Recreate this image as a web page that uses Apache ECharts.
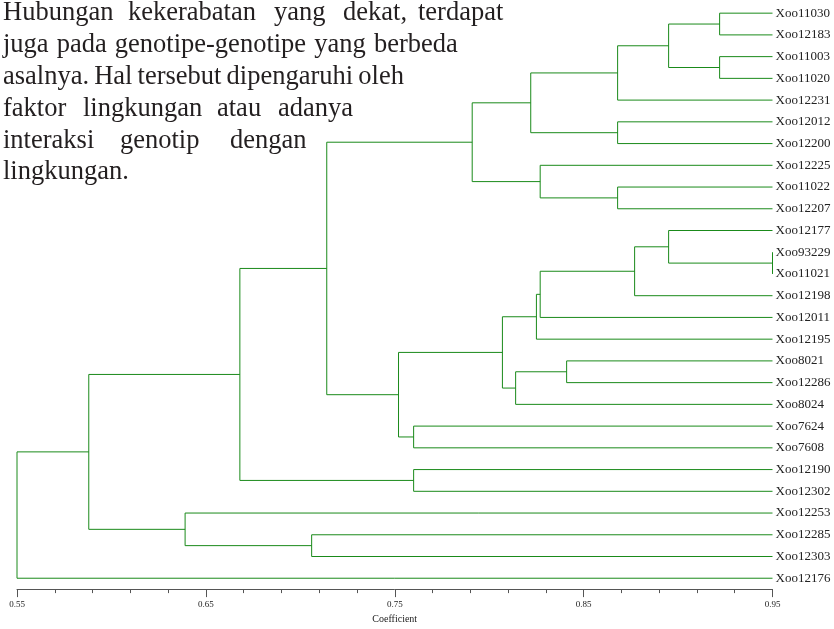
<!DOCTYPE html>
<html><head><meta charset="utf-8">
<script src="https://cdn.jsdelivr.net/npm/echarts@6/dist/echarts.min.js"></script>
<style>html,body{margin:0;padding:0;background:#fff}#c{width:834px;height:629px}</style>
</head><body><div id="c"></div>
<script>
// Leaves (top to bottom)
const leafNames = ['Xoo11030','Xoo12183','Xoo11003','Xoo11020','Xoo12231','Xoo12012','Xoo12200','Xoo12225','Xoo11022','Xoo12207','Xoo12177','Xoo93229','Xoo11021','Xoo12198','Xoo12011','Xoo12195','Xoo8021','Xoo12286','Xoo8024','Xoo7624','Xoo7608','Xoo12190','Xoo12302','Xoo12253','Xoo12285','Xoo12303','Xoo12176'];
// Merges: node index = 27 + merge index
const mergeLeft  = [0,2,27,29,5,30,8,7,32,11,10,37,38,39,16,41,40,19,43,35,21,46,24,23,48,51];
const mergeRight = [1,3,28,4,6,31,9,33,34,12,36,13,14,15,17,18,42,20,44,45,22,47,25,49,50,26];
const mergeHeight = [0.922,0.922,0.895,0.868,0.868,0.822,0.868,0.827,0.791,0.95,0.895,0.877,0.827,0.825,0.841,0.814,0.807,0.760,0.752,0.714,0.760,0.668,0.706,0.639,0.588,0.55];
const leafCoefficient = 0.95;
const axisTicks = ['0.55','0.65','0.75','0.85','0.95'];
const axisName = 'Coefficient';
const noteLines = [
  ['Hubungan','kekerabatan','yang','dekat,','terdapat'],
  ['juga','pada','genotipe-genotipe','yang','berbeda'],
  ['asalnya.','Hal','tersebut','dipengaruhi','oleh'],
  ['faktor','lingkungan','atau','adanya'],
  ['interaksi','genotip','dengan'],
  ['lingkungan.']
];

const nLeaf = leafNames.length;
const nodeX = [], nodeY = [];
for (let i = 0; i < nLeaf; i++) { nodeX.push(leafCoefficient); nodeY.push(i); }
const segData = [];
for (let m = 0; m < mergeHeight.length; m++) {
  const a = mergeLeft[m], b = mergeRight[m];
  nodeX.push(mergeHeight[m]);
  nodeY.push((nodeY[a] + nodeY[b]) / 2);
  segData.push([nodeX[a], nodeY[a], mergeHeight[m], nodeX[b], nodeY[b]]);
}

// justified word positions (text wraps around the figure)
const wordX = [[3,128,274,343,418],[3,56.7,114.8,314.3,373.9],[3,94.2,137.6,226.6,358.3],[3,83,217,278],[3,120,230],[3]];
const graphics = [];
noteLines.forEach((ws, li) => {
  ws.forEach((w, wi) => {
    graphics.push({type:'text', left: wordX[li][wi], top: 0 + li*31.8,
      style:{text:w, fontFamily:'Liberation Serif', fontSize:26.5, fill:'#231f20'}});
  });
});

const chart = echarts.init(document.getElementById('c'));
chart.setOption({
  animation:false,
  backgroundColor:'#fff',
  grid:{left:17, right:61.5, top:2.3, bottom:34.8},
  xAxis:{type:'value', min:0.55, max:0.95, interval:0.1, position:'bottom',
    name:axisName, nameLocation:'middle', nameGap:23,
    nameTextStyle:{fontFamily:'Liberation Serif', fontSize:10, color:'#222'},
    axisLine:{onZero:false, lineStyle:{color:'#555', width:1}},
    axisTick:{length:8, lineStyle:{color:'#555'}},
    minorTick:{show:true, splitNumber:5, length:4, lineStyle:{color:'#555'}},
    splitLine:{show:false}, minorSplitLine:{show:false},
    axisLabel:{fontFamily:'Liberation Serif', fontSize:9, color:'#222', margin:11,
      formatter:(v, i) => axisTicks[i]}
  },
  yAxis:[
    {type:'value', min:-0.5, max:nLeaf-0.5, inverse:true, show:false},
    {type:'category', data:leafNames, inverse:true, position:'right',
      axisLine:{show:false}, axisTick:{show:false}, splitLine:{show:false},
      axisLabel:{fontFamily:'Liberation Serif', fontSize:13, color:'#222', margin:3}}
  ],
  graphic:graphics,
  series:[{
    type:'custom', xAxisIndex:0, yAxisIndex:0, data:segData, clip:false,
    encode:{x:[0,2,3], y:[1,4]},
    renderItem:(params, api) => {
      const p1 = api.coord([api.value(0), api.value(1)]);
      const p2 = api.coord([api.value(2), api.value(1)]);
      const p3 = api.coord([api.value(2), api.value(4)]);
      const p4 = api.coord([api.value(3), api.value(4)]);
      return {type:'polyline', shape:{points:[p1,p2,p3,p4]},
        style:{stroke:'#1a8a1a', lineWidth:1, fill:null}};
    }
  }]
});
</script></body></html>
